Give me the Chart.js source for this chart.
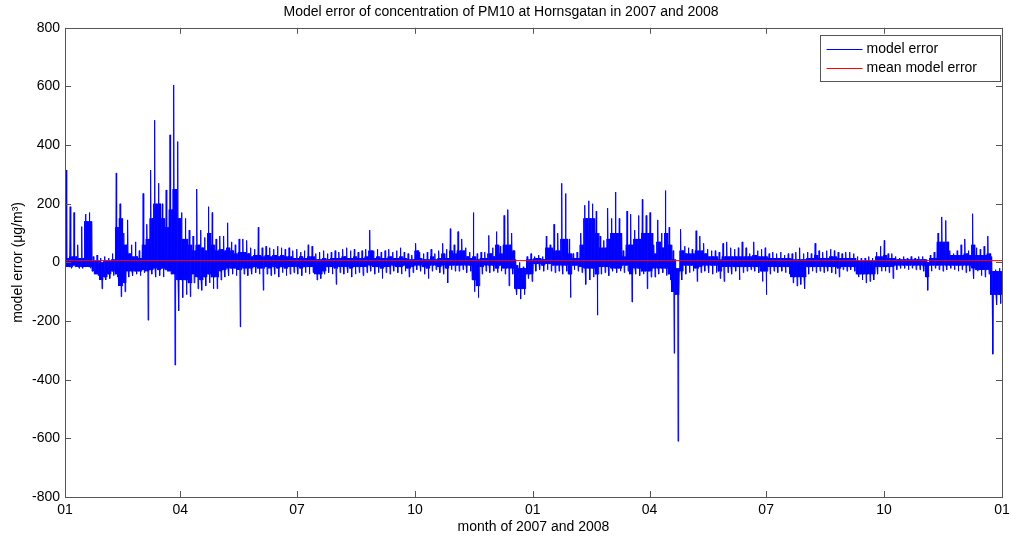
<!DOCTYPE html>
<html>
<head>
<meta charset="utf-8">
<script src="https://cdn.jsdelivr.net/npm/chart.js@4.4.0/dist/chart.umd.min.js"></script>
<style>
  html, body { margin: 0; padding: 0; background: #fff; }
</style>
</head>
<body>
<canvas id="err" width="1011" height="541"></canvas>
<script>
// hourly model error, summarised per ~3-day block (2007-01-01 .. 2008-12-31):
// extremes of the block and the range where the bulk of its hours sit
const totalDays = 731;
const errHigh = [
  315, 190, 170, 60, 122, 165, 170, 20, 25, 15,
  20, 15, 30, 305, 200, 100, 145, 60, 70, 40,
  235, 130, 315, 485, 270, 200, 247, 435, 605, 412,
  170, 150, 110, 90, 250, 110, 85, 190, 170, 80,
  90, 90, 135, 70, 60, 80, 80, 75, 50, 45,
  120, 50, 55, 50, 45, 55, 50, 45, 50, 40,
  45, 35, 40, 60, 55, 30, 35, 40, 30, 35,
  40, 35, 45, 50, 40, 45, 35, 40, 45, 110,
  40, 45, 35, 40, 45, 35, 40, 50, 35, 30,
  25, 65, 35, 30, 35, 45, 30, 40, 65, 45,
  115, 60, 105, 80, 50, 35, 170, 30, 35, 35,
  92, 50, 105, 55, 160, 180, 100, 10, 0, -15,
  20, 30, 20, 25, 20, 90, 60, 130, 100, 270,
  235, 80, 30, 35, 100, 195, 210, 200, 175, 90,
  75, 185, 150, 240, 150, 40, 175, 165, 110, 160,
  215, 160, 170, 60, 145, 100, 245, 120, 40, -20,
  113, 55, 50, 45, 108, 90, 65, 45, 40, 40,
  35, 65, 70, 50, 45, 50, 70, 50, 30, 70,
  40, 45, 50, 30, 35, 30, 35, 25, 30, 30,
  35, 50, 30, 35, 30, 65, 40, 35, 40, 45,
  40, 35, 30, 35, 35, 30, 20, 15, 15, 20,
  15, 35, 55, 75, 30, 30, 20, 15, 20, 15,
  20, 15, 20, 20, 10, 25, 35, 100, 155, 143,
  40, 30, 40, 60, 80, 40, 166, 50, 45, 55,
  90, 20, -25, -20
];
const errLow = [
  -15, -20, -15, -20, -20, -15, -20, -40, -45, -90,
  -60, -55, -45, -50, -117, -100, -50, -45, -40, -45,
  -35, -197, -40, -50, -45, -50, -30, -40, -350, -165,
  -120, -110, -117, -70, -90, -95, -80, -70, -90, -90,
  -60, -50, -45, -40, -45, -220, -40, -45, -40, -35,
  -40, -95, -40, -45, -40, -50, -35, -45, -40, -35,
  -40, -45, -35, -40, -35, -60, -55, -40, -35, -40,
  -75, -35, -40, -35, -50, -40, -35, -45, -35, -30,
  -40, -35, -55, -35, -40, -30, -35, -40, -30, -50,
  -35, -25, -30, -40, -55, -30, -25, -35, -40, -70,
  -25, -30, -30, -25, -35, -30, -100, -120, -40, -30,
  -35, -30, -35, -30, -40, -80, -40, -110, -125, -110,
  -55, -65, -30, -25, -30, -25, -30, -35, -30, -40,
  -30, -120, -25, -30, -35, -75, -60, -50, -180, -40,
  -35, -45, -30, -35, -30, -35, -30, -135, -40, -45,
  -40, -90, -50, -50, -40, -35, -45, -60, -310, -610,
  -60, -40, -35, -30, -65, -35, -30, -35, -40, -35,
  -55, -65, -35, -40, -30, -60, -35, -30, -25, -30,
  -35, -65, -110, -40, -30, -35, -30, -35, -40, -70,
  -80, -75, -90, -40, -30, -35, -30, -35, -30, -35,
  -40, -50, -25, -30, -25, -30, -50, -60, -70, -65,
  -60, -40, -30, -30, -35, -55, -25, -20, -20, -25,
  -20, -25, -25, -30, -95, -30, -20, -25, -30, -25,
  -20, -25, -30, -25, -35, -30, -55, -30, -45, -50,
  -40, -313, -145, -140
];
const errCoreHigh = [
  15, 20, 20, 15, 15, 140, 140, 5, 5, 0,
  5, 5, 10, 120, 150, 60, 30, 20, 20, 15,
  60, 80, 150, 200, 200, 150, 120, 180, 250, 150,
  80, 80, 60, 40, 60, 50, 40, 100, 60, 40,
  45, 40, 50, 40, 30, 35, 35, 30, 20, 25,
  25, 20, 25, 20, 25, 20, 25, 20, 20, 15,
  15, 20, 15, 20, 20, 10, 10, 15, 10, 15,
  15, 15, 20, 15, 15, 20, 15, 15, 20, 40,
  15, 20, 15, 15, 20, 15, 15, 20, 15, 10,
  10, 40, 15, 10, 10, 20, 10, 15, 30, 15,
  40, 30, 40, 40, 20, 15, 20, 10, 15, 15,
  30, 20, 60, 30, 60, 60, 40, -10, -20, -20,
  10, 10, 15, 15, 10, 50, 50, 40, 40, 80,
  80, 30, 15, 15, 60, 150, 150, 150, 100, 50,
  50, 80, 100, 100, 100, 20, 60, 60, 80, 80,
  100, 100, 100, 30, 70, 50, 100, 60, 10, 0,
  40, 30, 30, 30, 40, 40, 30, 20, 20, 20,
  10, 20, 20, 20, 20, 20, 20, 20, 20, 25,
  20, 20, 20, 15, 15, 15, 15, 15, 15, 10,
  10, 10, 10, 15, 15, 25, 15, 15, 15, 20,
  20, 15, 15, 15, 15, 15, 5, 5, 5, 5,
  5, 20, 20, 25, 15, 15, 10, 10, 10, 10,
  10, 10, 10, 10, 0, 15, 15, 70, 70, 70,
  25, 25, 25, 25, 30, 25, 60, 25, 25, 25,
  30, -30, -30, -30
];
const errCoreLow = [
  -15, -15, -10, -15, -15, -15, -15, -30, -40, -60,
  -50, -40, -30, -40, -80, -70, -30, -30, -30, -30,
  -25, -30, -25, -20, -25, -20, -25, -30, -40, -60,
  -60, -60, -70, -40, -50, -60, -50, -40, -50, -50,
  -30, -25, -20, -20, -20, -25, -20, -20, -20, -15,
  -20, -20, -15, -20, -15, -20, -15, -20, -15, -15,
  -15, -20, -15, -15, -15, -40, -40, -30, -15, -15,
  -20, -15, -15, -15, -20, -15, -15, -15, -15, -10,
  -15, -15, -20, -15, -15, -10, -15, -15, -10, -20,
  -15, -10, -10, -15, -20, -10, -10, -15, -10, -20,
  -10, -10, -10, -10, -10, -10, -60, -80, -15, -10,
  -10, -10, -20, -10, -20, -20, -20, -90, -90, -90,
  -40, -40, -5, -5, -10, -5, -5, -10, -10, -10,
  -10, -40, -10, -10, -15, -20, -20, -20, -40, -15,
  -15, -15, -20, -20, -20, -10, -10, -40, -20, -20,
  -30, -30, -30, -20, -20, -20, -20, -40, -100, -110,
  -30, -10, -10, -10, -20, -15, -10, -10, -10, -10,
  -30, -15, -15, -15, -15, -15, -15, -15, -15, -15,
  -15, -30, -30, -15, -15, -15, -15, -15, -15, -50,
  -50, -50, -50, -15, -15, -15, -15, -15, -15, -15,
  -15, -20, -15, -15, -15, -15, -40, -40, -40, -40,
  -40, -15, -15, -15, -15, -15, -10, -10, -10, -10,
  -10, -10, -10, -10, -50, -10, -10, -10, -10, -10,
  -10, -10, -10, -10, -10, -10, -20, -25, -25, -25,
  -25, -110, -110, -110
];
const meanError = 6;

const monthTickDays = [0, 90, 181, 273, 365, 456, 547, 639, 731];
const monthTickLabels = ['01', '04', '07', '10', '01', '04', '07', '10', '01'];
const yTickValues = [-800, -600, -400, -200, 0, 200, 400, 600, 800];

const FONT = 'Arial, "Liberation Sans", sans-serif';

// trace each block: wiggle inside its core range, reach the block max, then the block min
const blockDays = totalDays / errHigh.length;
const errPoints = [];
errHigh.forEach((hi, i) => {
  const lo = errLow[i];
  const start = i * blockDays;
  const cHi = Math.min(errCoreHigh[i], hi);
  const cLo = Math.max(errCoreLow[i], lo);
  const seq = [cLo, cHi, cLo, hi, cLo, cHi, lo, cHi, cLo, cHi];
  seq.forEach((v, k) => {
    errPoints.push({ x: start + blockDays * (k + 0.5) / seq.length, y: v });
  });
});

// MATLAB-like frame: box around the axes with ticks pointing inwards
const axesBox = {
  id: 'axesBox',
  afterDraw(chart) {
    const { ctx, chartArea: a, scales } = chart;
    const len = 6;
    ctx.save();
    ctx.strokeStyle = '#555';
    ctx.lineWidth = 1;
    ctx.beginPath();
    scales.x.ticks.forEach(t => {
      const px = Math.round(scales.x.getPixelForValue(t.value)) + 0.5;
      ctx.moveTo(px, a.bottom); ctx.lineTo(px, a.bottom - len);
      ctx.moveTo(px, a.top); ctx.lineTo(px, a.top + len);
    });
    scales.y.ticks.forEach(t => {
      const py = Math.round(scales.y.getPixelForValue(t.value)) + 0.5;
      ctx.moveTo(a.left, py); ctx.lineTo(a.left + len, py);
      ctx.moveTo(a.right, py); ctx.lineTo(a.right - len, py);
    });
    ctx.stroke();
    ctx.strokeRect(Math.round(a.left) + 0.5, Math.round(a.top) + 0.5,
      Math.round(a.right - a.left), Math.round(a.bottom - a.top));
    ctx.restore();
  }
};

// legend drawn inside the top-right corner of the axes
const boxLegend = {
  id: 'boxLegend',
  afterDraw(chart) {
    const { ctx, chartArea: a } = chart;
    const w = 180, h = 46;
    const left = Math.round(a.right - 2 - w) + 0.5;
    const top = Math.round(a.top + 7) + 0.5;
    ctx.save();
    ctx.fillStyle = '#fff';
    ctx.fillRect(left, top, w, h);
    ctx.strokeStyle = '#555';
    ctx.lineWidth = 1;
    ctx.strokeRect(left, top, w, h);
    ctx.font = '14px ' + FONT;
    ctx.textBaseline = 'middle';
    chart.data.datasets.forEach((ds, i) => {
      const y = Math.round(top + 13 + i * 19);
      ctx.strokeStyle = ds.borderColor;
      ctx.beginPath();
      ctx.moveTo(left + 6, y + 0.5);
      ctx.lineTo(left + 42, y + 0.5);
      ctx.stroke();
      ctx.fillStyle = '#000';
      ctx.fillText(ds.label, left + 46, y);
    });
    ctx.restore();
  }
};

new Chart(document.getElementById('err'), {
  type: 'line',
  data: {
    datasets: [
      {
        label: 'model error',
        data: errPoints,
        borderColor: '#0000ff',
        borderWidth: 1,
        pointRadius: 0,
        tension: 0,
        order: 1
      },
      {
        label: 'mean model error',
        data: [{ x: 0, y: meanError }, { x: totalDays, y: meanError }],
        borderColor: '#ff0000',
        borderWidth: 1,
        pointRadius: 0,
        order: 0
      }
    ]
  },
  options: {
    responsive: false,
    animation: false,
    devicePixelRatio: 1,
    layout: { padding: { left: 0, right: 9, top: 0, bottom: 0 } },
    plugins: {
      legend: { display: false },
      tooltip: { enabled: false },
      title: {
        display: true,
        text: 'Model error of concentration of PM10 at Hornsgatan in 2007 and 2008',
        color: '#000',
        font: { family: FONT, size: 14, weight: 'normal', lineHeight: 1.2 },
        padding: { top: 4, bottom: 7 }
      }
    },
    scales: {
      x: {
        type: 'linear',
        min: 0,
        max: totalDays,
        afterBuildTicks: s => { s.ticks = monthTickDays.map(v => ({ value: v })); },
        afterFit: s => { s.height = 44; s.paddingLeft = 0; s.paddingRight = 0; },
        ticks: {
          callback: (v, i) => monthTickLabels[i],
          autoSkip: false,
          maxRotation: 0,
          color: '#000',
          padding: 5,
          font: { family: FONT, size: 14 }
        },
        grid: { display: false, drawTicks: false },
        border: { display: false },
        title: {
          display: true,
          text: 'month of 2007 and 2008',
          color: '#000',
          font: { family: FONT, size: 14, lineHeight: 1.2 },
          padding: { top: 0, bottom: 5 }
        }
      },
      y: {
        min: -800,
        max: 800,
        afterBuildTicks: s => { s.ticks = yTickValues.map(v => ({ value: v })); },
        afterFit: s => { s.width = 65; },
        ticks: {
          color: '#000',
          padding: 5,
          font: { family: FONT, size: 14 }
        },
        grid: { display: false, drawTicks: false },
        border: { display: false },
        title: {
          display: true,
          text: 'model error (\u03bcg/m\u00b3)',
          color: '#000',
          font: { family: FONT, size: 14, lineHeight: 1.2 },
          padding: { top: 10, bottom: 0 }
        }
      }
    }
  },
  plugins: [axesBox, boxLegend]
});
</script>
</body>
</html>
